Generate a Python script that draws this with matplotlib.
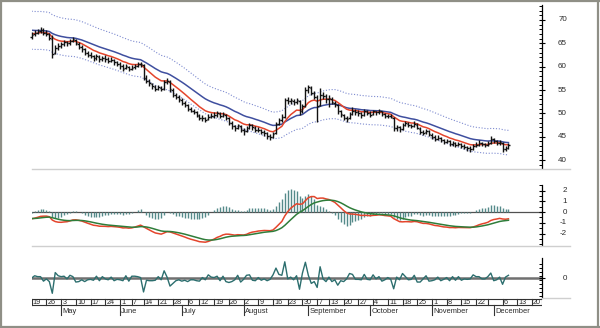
import numpy as np
import pandas as pd
import matplotlib
matplotlib.use("Agg")
import matplotlib.pyplot as plt
from matplotlib.collections import LineCollection
from matplotlib.lines import Line2D
from matplotlib.transforms import blended_transform_factory

plt.rcParams['font.family'] = ['Liberation Sans', 'DejaVu Sans']

# ---- daily prices, one row per trading week (Apr 19 - Dec 8, 2004) ----
opens = [
    66.4, 66.9, 67.2, 67.7, 67.8,
    67.3, 66.9, 66.0, 63.0, 64.1,
    64.4, 64.9, 65.3, 65.0, 65.6,
    65.8, 64.9, 64.2, 63.7, 63.0,
    62.6, 62.2, 61.8, 62.1, 61.6,
    61.9, 61.6, 61.3, 61.4, 60.9,
    60.6, 60.1, 59.7, 60.0,
    59.5, 59.9, 60.2, 60.5,
    60.3, 57.5, 57.0, 56.2, 55.7,
    55.3, 55.5, 55.3, 56.8, 56.8,
    55.0, 54.0, 53.4, 52.9, 52.3,
    51.8, 51.0, 50.6, 50.2,
    49.5, 48.9, 49.0, 48.7, 49.3,
    49.5, 49.7, 49.9, 49.5, 49.7,
    48.9, 47.9, 47.2, 46.9, 47.3,
    46.4, 46.2, 46.9, 47.4, 46.9,
    46.4, 46.4, 46.0, 45.7, 45.2,
    45.0, 45.7, 47.8, 48.5, 49.3,
    52.8, 52.6, 52.7, 52.4, 52.7,
    50.5, 51.6, 55.0, 55.5, 54.4,
    53.5, 51.8, 54.0, 53.7,
    53.0, 53.1, 52.3, 51.8, 50.4,
    49.7, 49.0, 48.9, 49.9, 50.6,
    50.3, 50.0, 49.7, 50.4, 50.1,
    49.8, 50.4, 50.2, 50.4, 49.8,
    49.4, 49.5, 49.1, 46.8, 47.0,
    46.7, 47.6, 47.8, 47.4, 47.2,
    47.6, 46.7, 46.0, 45.9, 46.2,
    45.4, 45.0, 44.6, 44.8, 44.2,
    43.9, 44.0, 43.4, 43.7, 43.2,
    43.4, 43.0, 42.8, 42.5, 42.4,
    43.0, 43.3, 43.6, 43.4,
    43.2, 43.6, 44.6, 44.0, 43.6,
    43.7, 42.4, 42.6,
]
highs = [
    67.4, 67.8, 68.1, 68.5, 68.2,
    67.9, 67.2, 66.7, 64.6, 65.0,
    65.3, 65.7, 65.6, 65.9, 66.3,
    66.0, 65.3, 64.7, 64.0, 63.4,
    63.1, 62.6, 62.7, 62.4, 62.3,
    62.4, 62.0, 62.0, 61.7, 61.3,
    60.9, 60.5, 60.6, 60.2,
    60.3, 60.6, 60.9, 61.1,
    60.6, 58.2, 57.4, 56.5, 56.0,
    56.0, 55.8, 57.2, 57.6, 57.1,
    55.4, 54.4, 53.9, 53.3, 52.7,
    52.0, 51.4, 51.0, 50.5,
    49.9, 49.6, 49.3, 49.8, 50.0,
    50.2, 50.4, 50.2, 50.3, 49.9,
    49.2, 48.3, 47.6, 47.8, 47.5,
    46.8, 47.2, 48.0, 47.7, 47.2,
    47.0, 46.7, 46.4, 46.0, 45.6,
    46.0, 48.1, 49.0, 49.8, 53.2,
    53.4, 53.3, 53.1, 53.3, 52.9,
    52.0, 55.6, 56.1, 55.8, 54.8,
    54.0, 55.5, 54.6, 54.1,
    54.0, 53.5, 52.7, 52.1, 50.7,
    49.9, 49.5, 50.2, 51.4, 51.0,
    50.8, 50.3, 50.9, 50.7, 50.4,
    50.8, 50.6, 50.9, 50.6, 50.1,
    49.9, 49.8, 49.3, 47.6, 47.3,
    48.0, 48.4, 48.2, 47.8, 48.3,
    47.9, 47.0, 46.4, 46.7, 46.5,
    45.7, 45.3, 45.3, 45.0, 44.5,
    44.6, 44.2, 44.1, 43.9, 43.9,
    43.7, 43.4, 43.1, 42.9, 43.4,
    43.8, 44.2, 43.9, 43.7,
    44.0, 45.1, 44.8, 44.3, 44.2,
    43.9, 43.1, 43.6,
]
lows = [
    66.0, 66.5, 66.9, 67.3, 66.8,
    66.5, 65.8, 61.9, 62.7, 63.6,
    63.9, 64.5, 64.4, 64.7, 65.2,
    64.6, 63.7, 63.2, 62.6, 62.1,
    61.8, 61.2, 61.5, 61.0, 61.2,
    61.1, 60.7, 61.0, 60.4, 60.1,
    59.6, 59.1, 59.4, 59.0,
    59.2, 59.6, 59.9, 60.0,
    57.2, 56.6, 55.9, 55.2, 54.8,
    55.0, 54.8, 55.1, 56.2, 54.6,
    53.6, 53.0, 52.5, 51.8, 51.3,
    50.6, 50.2, 49.8, 49.2,
    48.5, 48.3, 48.2, 48.5, 49.0,
    49.0, 49.3, 48.9, 49.2, 48.6,
    47.5, 46.7, 46.2, 46.6, 45.9,
    45.4, 45.9, 46.6, 46.5, 45.9,
    46.0, 45.5, 45.2, 44.6, 44.3,
    44.8, 45.5, 47.4, 48.2, 49.1,
    52.0, 52.0, 51.8, 52.1, 49.6,
    50.1, 51.4, 54.4, 53.9, 53.0,
    48.2, 51.5, 53.0, 52.3,
    51.3, 51.9, 51.4, 49.8, 49.2,
    48.5, 48.2, 48.7, 49.6, 49.7,
    49.4, 49.0, 49.5, 49.6, 49.2,
    49.6, 49.7, 49.9, 49.4, 49.0,
    49.0, 48.9, 46.2, 46.3, 46.1,
    46.5, 47.3, 47.0, 46.8, 47.0,
    46.6, 45.6, 45.3, 45.6, 45.2,
    44.5, 44.1, 44.3, 43.8, 43.4,
    43.6, 42.9, 43.1, 42.7, 42.9,
    42.5, 42.3, 42.0, 41.7, 42.2,
    42.8, 43.1, 42.9, 42.8,
    43.0, 43.4, 43.6, 43.2, 43.3,
    41.8, 42.0, 42.4,
]
closes = [
    66.8, 67.3, 67.6, 67.9, 67.2,
    67.0, 66.2, 62.8, 64.0, 64.5,
    64.8, 65.2, 65.0, 65.6, 65.9,
    65.0, 64.2, 63.8, 63.0, 62.6,
    62.3, 61.8, 62.2, 61.6, 61.9,
    61.7, 61.3, 61.5, 60.9, 60.6,
    60.2, 59.6, 60.1, 59.4,
    59.8, 60.2, 60.5, 60.6,
    57.5, 57.0, 56.4, 55.8, 55.3,
    55.6, 55.2, 56.8, 57.0, 55.2,
    54.0, 53.4, 53.0, 52.3, 51.8,
    51.0, 50.6, 50.2, 49.6,
    48.9, 49.0, 48.6, 49.3, 49.5,
    49.6, 50.0, 49.4, 49.8, 49.0,
    48.0, 47.2, 46.8, 47.4, 46.5,
    46.2, 46.8, 47.5, 47.0, 46.4,
    46.5, 46.0, 45.8, 45.2, 44.9,
    45.6, 47.8, 48.6, 49.2, 52.8,
    52.6, 52.8, 52.4, 52.9, 50.4,
    51.5, 55.0, 55.6, 54.4, 53.6,
    51.5, 54.0, 53.8, 53.0,
    53.2, 52.4, 52.0, 50.4, 49.8,
    49.0, 48.8, 49.8, 50.6, 50.3,
    50.0, 49.6, 50.4, 50.1, 49.7,
    50.4, 50.2, 50.5, 49.8, 49.4,
    49.5, 49.2, 46.8, 47.0, 46.6,
    47.6, 47.9, 47.5, 47.2, 47.8,
    46.9, 46.0, 45.8, 46.3, 45.6,
    45.0, 44.6, 44.8, 44.2, 43.9,
    44.0, 43.4, 43.7, 43.2, 43.5,
    43.0, 42.8, 42.5, 42.3, 43.0,
    43.3, 43.6, 43.4, 43.2,
    43.5, 44.6, 44.0, 43.6, 43.8,
    42.4, 42.6, 43.2,
]

# averages carried in from before the first bar
fast_seed, slow_seed = 67.1, 67.9
macd_seeds = (67.2, 67.85)
signal_seed = -0.6

# ---- calendar ----
holidays = ["2004-05-31", "2004-06-11", "2004-07-05", "2004-09-06",
            "2004-11-25", "2004-12-24"]
week_labels = ["19", "26", "3", "10", "17", "24", "1", "7", "14", "21", "28",
               "6", "12", "19", "26", "2", "9", "16", "23", "30", "7", "13",
               "20", "27", "4", "11", "18", "25", "1", "8", "15", "22", "",
               "6", "13", "20"]
month_names = ["May", "June", "July", "August", "September", "October",
               "November", "December"]
price_ticks = [40, 45, 50, 55, 60, 65, 70]
macd_ticks = [-2, -1, 0, 1, 2]
osc_ticks = [0]

days = pd.bdate_range("2004-04-19", "2004-12-23")
days = days[~days.isin(pd.to_datetime(holidays))]
pos = np.arange(len(days))
iso_week = days.isocalendar().week.to_numpy()
week_starts = pos[np.r_[True, iso_week[1:] != iso_week[:-1]]]
mon = days.month.to_numpy()
month_starts = pos[1:][mon[1:] != mon[:-1]]


def ema(values, span, start):
    a = 2.0 / (span + 1)
    out, prev = [], start
    for v in values:
        prev = prev + a * (v - prev)
        out.append(prev)
    return np.array(out)


# ---- indicators ----
c = np.asarray(closes, dtype=float)
x = np.arange(len(c))
ema_fast = ema(c, 10, fast_seed)
ema_slow = ema(c, 22, slow_seed)
band_up = ema_slow * 1.06
band_dn = ema_slow * 0.94
macd = ema(c, 12, macd_seeds[0]) - ema(c, 26, macd_seeds[1])
signal = ema(macd, 9, signal_seed)
hist = 2 * (macd - signal)
osc = np.r_[0.0, np.diff(c)]

# ---- figure layout (pixel based) ----
W, H = 600, 328
fig = plt.figure(figsize=(W / 100, H / 100), dpi=100, facecolor="white")
L, R = 31.7, 542.0
XLIM = (0, 173.4)


def px_axes(y0, y1, x0=L, x1=R):
    return fig.add_axes([x0 / W, 1 - y1 / H, (x1 - x0) / W, (y1 - y0) / H])


def strip(ax):
    for s in ("left", "top", "bottom"):
        ax.spines[s].set_visible(False)
    ax.set_xticks([])
    ax.patch.set_alpha(0)
    ax.set_xlim(*XLIM)


lab_tr = lambda ax: blended_transform_factory(fig.transFigure, ax.transData)
TXT = "#2a2a2a"


def right_axis(ax, lo, hi, minor, major):
    ax.spines["right"].set_bounds(lo, hi)
    ax.spines["right"].set_linewidth(0.9)
    ax.yaxis.tick_right()
    ax.set_yticks(minor, minor=True)
    ax.set_yticks(major)
    ax.set_yticklabels([])
    ax.tick_params(axis="y", which="major", direction="inout", length=5,
                   width=0.8)
    ax.tick_params(axis="y", which="minor", direction="in", length=2.5,
                   width=0.7)
    for t in major:
        ax.text(567 / W, t, str(t), transform=lab_tr(ax), ha="right",
                va="center", fontsize=5.8, color=TXT)


# price panel
ax = px_axes(3, 168)
strip(ax)
ax.set_ylim(38.29, 73.64)
right_axis(ax, 38.29, 73.2, np.arange(39, 74, 1), price_ticks)

ax.plot(x, band_up, color="#7e8bd0", lw=0.8, ls=(0, (1, 1.6)), zorder=1)
ax.plot(x, band_dn, color="#7e8bd0", lw=0.8, ls=(0, (1, 1.6)), zorder=1)
ax.plot(x, ema_slow, color="#3f4f9f", lw=1.1, zorder=2)
ax.plot(x, ema_fast, color="#e4452c", lw=1.1, zorder=2)

hw = 0.5
segs = []
for i, (o, h, l, cl) in enumerate(zip(opens, highs, lows, closes)):
    segs.append([(i, l), (i, h)])
    segs.append([(i - hw, o), (i, o)])
    segs.append([(i, cl), (i + hw, cl)])
ax.add_collection(LineCollection(segs, colors="#111111", linewidths=1.0,
                                 zorder=3, clip_on=False))

# MACD panel
ax2 = px_axes(170, 246)
strip(ax2)
ax2.set_ylim(-34 / 10.75, 42 / 10.75)
right_axis(ax2, -3.1, 2.5, np.arange(-3.0, 2.51, 0.5), macd_ticks)
ax2.axhline(0, color="#505050", lw=0.9, zorder=1)
ax2.vlines(x, 0, hist, color="#558a8a", lw=1.0, zorder=2)
ax2.plot(x, macd, color="#e4452c", lw=1.1, zorder=3)
ax2.plot(x, signal, color="#2f7d3a", lw=1.1, zorder=4)

# oscillator panel
ax3 = px_axes(250, 298)
strip(ax3)
ax3.set_ylim(-20 / 4.5, 28 / 4.5)
right_axis(ax3, -20 / 4.5, 20 / 4.5, np.arange(-4, 4.1, 0.9), osc_ticks)
ax3.axhline(0, color="#707070", lw=1.8, zorder=1)
ax3.plot(x, osc, color="#2c6e6e", lw=1.0, zorder=2)

# date axis
axd = px_axes(298, 322)
for s in axd.spines.values():
    s.set_visible(False)
axd.set_xticks([])
axd.set_yticks([])
axd.patch.set_alpha(0)
axd.set_xlim(*XLIM)
axd.set_ylim(24, 0)
axd.plot(XLIM, [0.7, 0.7], color="#333333", lw=0.8)
axd.plot(XLIM, [7.4, 7.4], color="#333333", lw=0.8)
axd.plot([XLIM[1]] * 2, [0.7, 7.4], color="#333333", lw=0.8)
for p, lab in zip(week_starts, week_labels):
    axd.plot([p, p], [0.7, 7.4], color="#333333", lw=0.8)
    axd.text(p + 0.4, 4.2, lab, fontsize=5.2, color=TXT, ha="left",
             va="center")
for p, name in zip(month_starts, month_names):
    axd.plot([p, p], [7.4, 17.2], color="#333333", lw=0.8)
    axd.text(p + 0.4, 13.2, name, fontsize=5.4, color=TXT, ha="left",
             va="center")

# panel separators and frame
sep = dict(color="#cfcfcf", lw=1.0, transform=fig.transFigure)
for yy in (169, 246):
    fig.add_artist(Line2D([L / W, 570 / W], [1 - yy / H] * 2, **sep))
fig.add_artist(Line2D([R / W, 570 / W], [1 - 298 / H] * 2, **sep))
frame = dict(color="#8f8f86", lw=1.6, transform=fig.transFigure)
fig.add_artist(Line2D([0.5 / W, 0.5 / W], [0, 1], **frame))
fig.add_artist(Line2D([0, 1], [1 - 0.5 / H] * 2, **frame))
fig.add_artist(Line2D([0, 1], [1 - 326.5 / H] * 2, **frame))
fig.add_artist(Line2D([598 / W, 598 / W], [0, 1], **frame))

fig.savefig("out.png", dpi=100, facecolor="white")
